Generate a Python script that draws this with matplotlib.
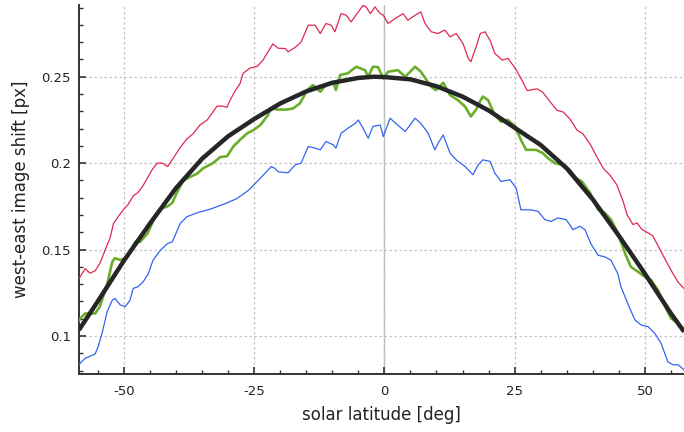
import matplotlib
matplotlib.use("Agg")
import matplotlib.pyplot as plt
from matplotlib.ticker import MultipleLocator, FuncFormatter

# datos (latitud en grados, desplazamiento en px)
lat_rojo = [-58.6, -57.4, -56.5, -55.5, -54.6, -53.6, -52.6, -52.0, -51.1, -50.1,
            -49.2, -48.2, -47.3, -46.3, -44.6, -43.6, -42.6, -41.6, -40.7, -39.2,
            -37.9, -36.7, -35.4, -34.0, -32.1, -31.0, -30.2, -29.6, -28.6, -27.7,
            -27.1, -25.8, -24.4, -23.3, -21.4, -20.4, -19.0, -18.5, -17.1, -16.0,
            -14.6, -13.3, -12.3, -11.2, -10.2, -9.5, -8.3, -7.3, -6.4, -5.0,
            -4.1, -3.5, -2.7, -1.8, -0.8, -0.2, 0.7, 2.1, 3.6, 4.5,
            5.9, 7.0, 7.8, 9.0, 10.3, 11.6, 12.6, 13.8, 15.1, 16.1,
            16.6, 17.6, 18.4, 19.3, 20.3, 21.2, 22.6, 23.7, 25.1, 26.4,
            27.4, 29.3, 30.4, 31.8, 33.1, 34.3, 35.6, 37.0, 38.1, 39.5,
            40.8, 42.0, 43.3, 44.6, 45.8, 46.6, 47.7, 48.5, 49.4, 50.4,
            51.5, 52.9, 54.3, 55.4, 56.4, 57.5]
val_rojo = [0.1333, 0.139, 0.1363, 0.1377, 0.142, 0.1496, 0.157, 0.165, 0.169, 0.173,
            0.176, 0.181, 0.183, 0.187, 0.196, 0.200, 0.200, 0.198, 0.202, 0.209,
            0.214, 0.217, 0.222, 0.225, 0.233, 0.233, 0.2323, 0.2365, 0.242, 0.246,
            0.252, 0.255, 0.256, 0.2596, 0.269, 0.2665, 0.2663, 0.2644, 0.267, 0.270,
            0.2798, 0.2798, 0.275, 0.2808, 0.2798, 0.276, 0.2865, 0.2856, 0.2817, 0.2875,
            0.2913, 0.2904, 0.2865, 0.2904, 0.2865, 0.2856, 0.2808, 0.2837, 0.2865, 0.2827,
            0.2856, 0.2875, 0.2808, 0.276, 0.275, 0.277, 0.2731, 0.275, 0.2692, 0.2606,
            0.2587, 0.2673, 0.275, 0.276, 0.271, 0.2635, 0.2596, 0.2606, 0.255, 0.248,
            0.242, 0.243, 0.241, 0.2356, 0.2306, 0.2296, 0.2256, 0.219, 0.217, 0.211,
            0.2035, 0.197, 0.193, 0.1875, 0.178, 0.170, 0.1645, 0.1654, 0.1617, 0.160,
            0.158, 0.150, 0.142, 0.136, 0.131, 0.1275]

lat_verde = [-58.6, -58.4, -57.4, -55.5, -54.6, -53.2, -52.2, -51.7, -50.7, -49.7,
             -48.4, -47.8, -46.9, -45.5, -44.6, -43.9, -43.0, -41.6, -40.7, -39.8,
             -38.6, -37.3, -35.9, -34.8, -32.9, -31.5, -30.2, -29.0, -27.7, -26.3,
             -25.2, -23.8, -22.3, -21.9, -20.4, -18.7, -17.5, -16.2, -14.8, -13.7,
             -12.3, -11.0, -9.8, -9.3, -8.5, -7.0, -5.4, -3.7, -3.1, -2.2,
             -1.2, -0.2, 0.7, 2.6, 4.0, 5.9, 7.0, 9.0, 9.9, 11.3,
             12.6, 14.1, 15.5, 16.6, 17.6, 18.4, 18.9, 19.9, 21.2, 22.4,
             23.7, 25.1, 26.2, 27.2, 29.1, 30.4, 31.4, 32.7, 34.3, 35.6,
             36.8, 37.9, 39.5, 41.0, 42.3, 43.5, 44.8, 46.2, 47.3, 48.7,
             50.0, 51.2, 52.5, 53.9, 55.0, 56.4, 57.5]
val_verde = [0.109, 0.110, 0.113, 0.113, 0.117, 0.130, 0.143, 0.145, 0.144, 0.145,
             0.1506, 0.1544, 0.1544, 0.159, 0.165, 0.170, 0.1735, 0.175, 0.177, 0.183,
             0.190, 0.192, 0.194, 0.197, 0.200, 0.2035, 0.204, 0.2096, 0.2135, 0.2173,
             0.219, 0.222, 0.228, 0.2317, 0.231, 0.231, 0.2317, 0.2346, 0.2423, 0.2452,
             0.2413, 0.246, 0.247, 0.2423, 0.251, 0.252, 0.2558, 0.2538, 0.250, 0.2558,
             0.2555, 0.249, 0.2529, 0.2538, 0.250, 0.2558, 0.2529, 0.2442, 0.2423, 0.2465,
             0.2394, 0.2365, 0.2327, 0.227, 0.231, 0.236, 0.2385, 0.2365, 0.2279, 0.224,
             0.225, 0.2212, 0.2135, 0.2077, 0.2077, 0.2058, 0.2029, 0.200, 0.199, 0.196,
             0.1913, 0.1894, 0.1827, 0.1731, 0.1712, 0.1673, 0.1596, 0.1477, 0.140, 0.1371,
             0.1342, 0.1323, 0.1265, 0.1169, 0.1102, 0.1073, 0.1035]

lat_azul = [-58.6, -58.4, -57.4, -55.5, -54.9, -54.1, -53.2, -52.2, -51.7, -50.7,
            -49.7, -48.8, -48.2, -47.3, -46.3, -45.3, -44.4, -43.0, -41.6, -40.7,
            -39.2, -37.9, -35.7, -33.3, -30.6, -28.3, -26.1, -24.2, -22.9, -21.7,
            -21.0, -20.4, -18.5, -17.1, -16.0, -14.6, -13.3, -12.3, -11.2, -9.8,
            -9.3, -8.3, -7.0, -5.6, -5.0, -4.1, -3.1, -2.2, -0.8, -0.2,
            1.1, 2.2, 4.0, 5.9, 7.0, 8.4, 9.7, 10.3, 11.3, 12.6,
            13.8, 15.5, 17.0, 18.0, 18.9, 20.3, 21.2, 22.4, 24.1, 25.3,
            26.2, 28.1, 29.5, 30.8, 32.0, 33.3, 34.9, 36.2, 37.5, 38.5,
            39.6, 41.0, 42.3, 43.5, 44.8, 45.4, 46.7, 48.1, 49.3, 50.6,
            51.9, 53.1, 54.4, 55.4, 56.4, 57.5]
val_azul = [0.083, 0.0842, 0.0871, 0.0896, 0.094, 0.1025, 0.114, 0.1208, 0.1217, 0.118,
            0.117, 0.1208, 0.1275, 0.1285, 0.1313, 0.136, 0.1438, 0.1496, 0.1535, 0.1544,
            0.165, 0.169, 0.1715, 0.1735, 0.1765, 0.1795, 0.1842, 0.190, 0.1942, 0.198,
            0.197, 0.195, 0.1944, 0.199, 0.200, 0.2096, 0.2087, 0.2077, 0.2125, 0.2106,
            0.2087, 0.2173, 0.2202, 0.223, 0.225, 0.2202, 0.2144, 0.2212, 0.2221, 0.2154,
            0.226, 0.223, 0.2183, 0.226, 0.223, 0.2173, 0.2077, 0.2115, 0.2163, 0.2058,
            0.2019, 0.198, 0.1933, 0.199, 0.2019, 0.201, 0.1942, 0.1894, 0.1904, 0.1856,
            0.173, 0.173, 0.1721, 0.1673, 0.1663, 0.1683, 0.1673, 0.1615, 0.1635, 0.1615,
            0.1535, 0.1467, 0.1458, 0.1438, 0.136, 0.1285, 0.1188, 0.1092, 0.1063, 0.1054,
            0.1015, 0.0958, 0.0850, 0.0833, 0.0833, 0.0804]

lat_modelo = [-58.6, -55, -50, -45, -40, -35, -30, -25, -20, -15, -10, -5, -2, 0,
              5, 10, 15, 20, 25, 30, 35, 40, 45, 50, 55, 57.5]
val_modelo = [0.1035, 0.120, 0.1435, 0.165, 0.1855, 0.2025, 0.2155, 0.2255, 0.2345,
              0.2415, 0.2465, 0.2493, 0.2500, 0.2498, 0.2485, 0.2445, 0.2385, 0.2305,
              0.2205, 0.2105, 0.197, 0.179, 0.158, 0.136, 0.113, 0.1025]

plt.rcParams['axes.unicode_minus'] = False
plt.rcParams['font.family'] = ['DejaVu Sans']

fig = plt.figure(figsize=(6.84, 4.32), dpi=100)
ax = fig.add_axes([0.1155, 0.1343, 0.8845, 0.8541])

ax.grid(True, which='major', color='#c4c4c4', linestyle=(0, (2, 2)), linewidth=0.9)
ax.axvline(0, color='#bbbbbb', linewidth=1.0, zorder=1)

ax.plot(lat_rojo, val_rojo, color='#e0284f', linewidth=0.9, zorder=3)
ax.plot(lat_azul, val_azul, color='#3264f0', linewidth=0.9, zorder=3)
ax.plot(lat_verde, val_verde, color='#6aae2c', linewidth=1.9, zorder=4)
ax.plot(lat_modelo, val_modelo, color='#262626', linewidth=3.2, zorder=5,
        solid_capstyle='butt')

ax.set_xlim(-58.6, 57.5)
ax.set_ylim(0.078, 0.2915)

ax.xaxis.set_major_locator(MultipleLocator(25))
ax.xaxis.set_minor_locator(MultipleLocator(5))
ax.yaxis.set_major_locator(MultipleLocator(0.05))
ax.yaxis.set_minor_locator(MultipleLocator(0.01))
ax.yaxis.set_major_formatter(FuncFormatter(lambda v, p: f'{v:g}'))
ax.xaxis.set_major_formatter(FuncFormatter(lambda v, p: f'{v:g}'))

ax.tick_params(which='both', direction='in', colors='#333333', labelcolor='#222222',
               labelsize=9.5, top=False, right=False)
ax.tick_params(which='major', length=5, width=1.2)
ax.tick_params(which='minor', length=3, width=1.0)
ax.tick_params(axis='x', pad=8)
ax.tick_params(axis='y', pad=6)

for lado in ['top', 'right']:
    ax.spines[lado].set_visible(False)
for lado in ['left', 'bottom']:
    ax.spines[lado].set_color('#333333')
    ax.spines[lado].set_linewidth(1.4)

ax.set_xlabel('solar latitude [deg]', fontsize=12, color='#222222', labelpad=6)
ax.set_ylabel('west-east image shift [px]', fontsize=12, color='#222222', labelpad=8)

plt.savefig('out.png', dpi=100)
plt.close()
